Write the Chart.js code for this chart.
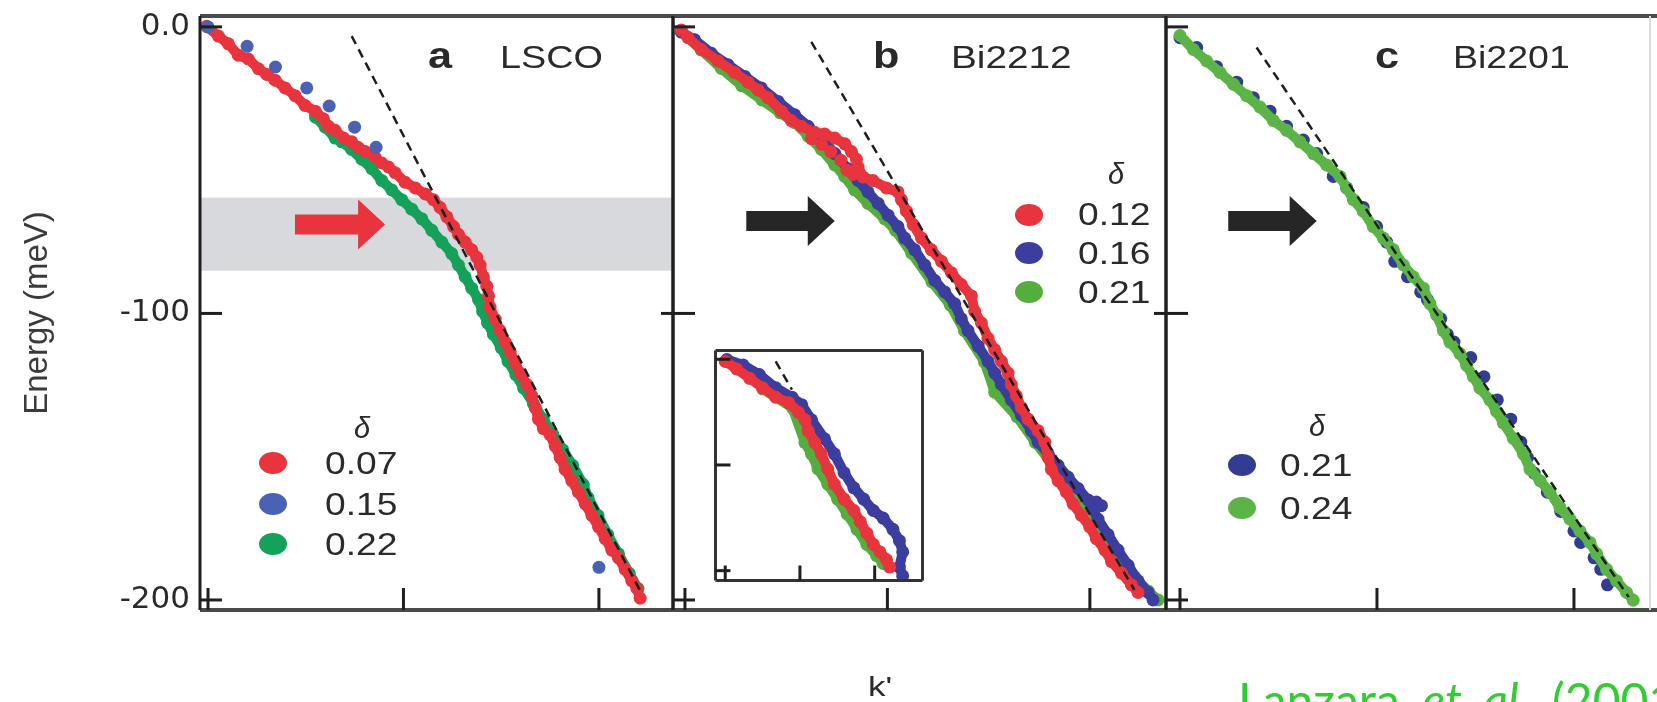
<!DOCTYPE html>
<html>
<head>
<meta charset="utf-8">
<title>Nodal dispersion kink</title>
<script src="https://cdn.jsdelivr.net/npm/chart.js@4.4.1/dist/chart.umd.min.js"></script>
<style>
html, body { margin: 0; padding: 0; background: #fff; }
#fig { position: relative; width: 1657px; height: 702px; overflow: hidden; background: #fff; }
#fig canvas { position: absolute; left: 0; top: 0; }
.t { position: absolute; font-family: "Liberation Sans", Arial, sans-serif; color: #2a2a2a; white-space: nowrap; line-height: 1; transform-origin: 0 0; }
.dot { position: absolute; width: 28px; height: 22px; border-radius: 50%; }
#cite { position: absolute; left: 1238px; top: 671px; font-family: Lato, "Open Sans", sans-serif; font-size: 48px; line-height: 1.2; color: #33cc33; white-space: nowrap; word-spacing: 10px; }
</style>
</head>
<body>
<div id="fig">
  <canvas id="panelA" width="1657" height="702"></canvas>
  <canvas id="panelB" width="1657" height="702"></canvas>
  <canvas id="panelC" width="1657" height="702"></canvas>
  <canvas id="inset" width="220" height="243" style="left:709px;top:344px"></canvas>
  <div id="labels"></div>
  <div id="cite">Lanzara <i>et al.</i> (2001)</div>
</div>
<script>
// 軸の目盛り
const kTicks = [0, 1, 2];
const eTicks = [0, -100, -200];
const eTickLabels = ['0.0', '-100', '-200'];

// a: LSCO
const lscoDoping = ['0.07', '0.15', '0.22'];
const lsco007 = [[-0.007,0.2],[0.053,-3.2],[0.104,-5.9],[0.155,-9.9],[0.206,-11.2],[0.258,-14.6],[0.30,-16.6],[0.343,-18.6],[0.394,-21.3],[0.445,-24.0],[0.496,-27.4],[0.548,-29.4],[0.59,-32.1],[0.616,-34.7],[0.65,-36.1],[0.693,-38.8],[0.735,-40.1],[0.769,-42.1],[0.804,-43.5],[0.855,-45.5],[0.889,-47.5],[0.923,-48.9],[0.957,-50.9],[1.008,-54.2],[1.06,-56.2],[1.111,-58.3],[1.153,-60.3],[1.187,-63.0],[1.222,-66.3],[1.256,-69.7],[1.281,-72.4],[1.315,-75.1],[1.349,-77.8],[1.375,-80.4],[1.392,-83.1],[1.409,-87.2],[1.426,-90.5],[1.435,-93.9],[1.443,-97.9],[1.469,-102],[1.494,-106],[1.52,-110],[1.546,-113.4],[1.571,-117.4],[1.597,-120.8],[1.631,-124.8],[1.657,-128.8],[1.674,-132.9],[1.691,-136.9],[1.716,-140.2],[1.75,-142.3],[1.776,-146.3],[1.802,-150.3],[1.827,-154.4],[1.861,-158.4],[1.895,-162.4],[1.93,-166.5],[1.964,-170.5],[1.998,-174.5],[2.032,-178.6],[2.066,-182.6],[2.10,-185.3],[2.134,-189.3],[2.168,-193.3],[2.194,-196],[2.211,-199.4]];
const lsco015 = [[0.0,0],[0.2,-6.8],[0.345,-14],[0.505,-21.3],[0.62,-27.6],[0.75,-35],[0.86,-42],[2.0,-188.6]];
const lsco022 = [[0.55,-31.5],[0.60,-35],[0.65,-38.8],[0.684,-40.1],[0.735,-42.8],[0.787,-46.2],[0.838,-49.5],[0.889,-53.6],[0.94,-56.9],[0.991,-60.3],[1.042,-63.6],[1.094,-67.0],[1.145,-71.0],[1.196,-75.1],[1.247,-79.1],[1.281,-83.1],[1.315,-87.2],[1.349,-91.2],[1.384,-95.2],[1.405,-99.3],[1.43,-103.3],[1.46,-107.3],[1.5,-112],[1.535,-116.7],[1.575,-121.4],[1.615,-126.1],[1.665,-131.5],[1.715,-136.9],[1.765,-142.3],[1.815,-147.6],[1.865,-153],[1.92,-159.7],[1.945,-164.4],[1.995,-170.5],[2.045,-177.2],[2.1,-183.9],[2.155,-190.7],[2.2,-196]];
const lscoFit = [[0.735,-3.2],[2.22,-198]];
const lscoBand = [-59.6, -85.1];
const lscoArrow = [0.445, 0.906, -69];

// b: Bi2212
const bi2212Doping = ['0.12', '0.16', '0.21'];
const bi2212_012 = [[-0.018,-1.1],[0.015,-3.8],[0.081,-7.9],[0.163,-11.9],[0.245,-15.9],[0.311,-19.3],[0.361,-22.0],[0.41,-24.7],[0.476,-29.4],[0.525,-32.7],[0.575,-34.7],[0.641,-36.8],[0.69,-37.4],[0.74,-38.8],[0.789,-40.8],[0.822,-43.5],[0.847,-46.2],[0.855,-48.9],[0.88,-52.4],[0.929,-53.6],[0.995,-56.2],[1.052,-57.6],[1.069,-60.3],[1.094,-64.3],[1.127,-69.0],[1.168,-73.7],[1.217,-77.8],[1.267,-81.8],[1.316,-85.8],[1.365,-89.9],[1.415,-93.9],[1.431,-99.3],[1.464,-103.3],[1.497,-108.7],[1.53,-112.7],[1.563,-116.7],[1.596,-120.8],[1.612,-124.8],[1.637,-128.8],[1.662,-132.9],[1.695,-136.9],[1.744,-140.9],[1.777,-144.9],[1.794,-150.3],[1.81,-154.4],[1.843,-158.4],[1.884,-162.4],[1.917,-166.5],[1.958,-170.5],[1.999,-174.5],[2.032,-178.6],[2.074,-182.6],[2.107,-186.6],[2.156,-190.6],[2.205,-194.7],[2.238,-197.4]];
const bi2212_012Blob = [[0.625,-39],[0.675,-41],[0.72,-43.5],[0.77,-46.5],[0.80,-50],[0.83,-51.5]];
const bi2212_016 = [[-0.018,-1.8],[0.048,-4.5],[0.13,-9.2],[0.212,-13.2],[0.295,-17.3],[0.377,-21.3],[0.46,-26.0],[0.542,-30.7],[0.608,-34.7],[0.674,-38.8],[0.74,-44.2],[0.805,-49.5],[0.855,-53.6],[0.904,-57.6],[0.954,-61.6],[1.003,-65.7],[1.052,-69.7],[1.085,-73.7],[1.135,-77.8],[1.184,-83.1],[1.234,-88.5],[1.283,-92.5],[1.332,-96.6],[1.365,-101.9],[1.398,-106.0],[1.448,-111.4],[1.497,-116.7],[1.53,-120.8],[1.563,-124.8],[1.612,-130.2],[1.662,-135.6],[1.711,-140.9],[1.744,-144.9],[1.794,-149.0],[1.843,-153.0],[1.892,-157.1],[1.942,-161.1],[1.991,-165.1],[2.04,-171.8],[2.09,-177.2],[2.139,-182.6],[2.189,-187.9],[2.238,-193.3],[2.288,-197.4],[2.312,-200]];
const bi2212_016Spur = [[2.032,-165.8],[2.057,-167.1]];
const bi2212_021 = [[-0.02,-1.5],[0.08,-8],[0.18,-14.5],[0.28,-20.5],[0.38,-25.5],[0.47,-30],[0.542,-33.4],[0.608,-38.1],[0.674,-42.8],[0.74,-48.2],[0.789,-52.2],[0.838,-56.9],[0.904,-61.6],[0.987,-67],[1.04,-71],[1.12,-79],[1.22,-89],[1.31,-97],[1.38,-106],[1.48,-117],[1.53,-127.5],[1.64,-136],[1.73,-145],[1.83,-154],[1.93,-162],[2.03,-173],[2.13,-183],[2.222,-192],[2.29,-197],[2.337,-200]];
const bi2212Fit = [[0.624,-5.2],[2.22,-196.5]];
const bi2212Arrow = [0.303, 0.74, -67.7];

// b 挿入図
const insetRed = [[0.0,-2],[0.152,-9.1],[0.327,-18.0],[0.501,-27.0],[0.675,-35.9],[0.85,-41.2],[0.98,-50.2],[1.067,-57.3],[1.111,-68.0],[1.198,-78.8],[1.285,-89.5],[1.372,-103.8],[1.46,-118.1],[1.59,-132.3],[1.721,-143.1],[1.808,-153.8],[1.895,-164.5],[1.982,-175.2],[2.07,-182.3],[2.157,-189.5],[2.2,-196.6]];
const insetBlue = [[0.022,-0.2],[0.24,-5.5],[0.457,-14.5],[0.675,-27.0],[0.893,-35.9],[1.024,-43.0],[1.154,-57.3],[1.329,-75.2],[1.46,-89.5],[1.59,-107.3],[1.721,-121.6],[1.852,-132.3],[1.982,-143.1],[2.113,-150.2],[2.244,-160.9],[2.331,-171.6],[2.375,-182.3],[2.331,-196.6],[2.375,-205]];
const insetGreen = [[0.5,-28],[0.9,-46],[1.067,-78.8],[1.154,-89.5],[1.242,-103.8],[1.372,-118.1],[1.503,-132.3],[1.634,-146.6],[1.764,-160.9],[1.895,-175.2],[2.026,-185.9],[2.113,-193.1]];
const insetFit = [[0.675,-2],[0.893,-28.8]];

// c: Bi2201
const bi2201Doping = ['0.21', '0.24'];
const bi2201_021 = [[0.0,-3.8],[0.085,-7.2],[0.186,-13.9],[0.288,-19.3],[0.372,-24.7],[0.457,-29.4],[0.541,-34.7],[0.626,-39.5],[0.694,-44.2],[0.778,-52.2],[0.846,-56.2],[0.93,-63.0],[0.998,-69.7],[1.049,-75.1],[1.09,-81.8],[1.155,-87.2],[1.222,-92.5],[1.256,-95.2],[1.324,-101.9],[1.357,-107.3],[1.391,-110.0],[1.476,-115.4],[1.543,-122.1],[1.611,-130.2],[1.679,-136.9],[1.73,-144.9],[1.764,-150.3],[1.798,-155.7],[1.865,-162.4],[1.933,-169.1],[2.0,-175.9],[2.034,-179.9],[2.102,-185.3],[2.136,-189.3],[2.17,-194.7]];
const bi2201_024 = [[0.0,-3],[0.068,-7.9],[0.135,-11.9],[0.203,-15.9],[0.271,-20.0],[0.338,-24.0],[0.406,-28.0],[0.474,-32.7],[0.541,-36.1],[0.609,-40.1],[0.677,-44.2],[0.744,-48.2],[0.812,-52.2],[0.846,-56.2],[0.88,-60.3],[0.93,-64.3],[0.981,-69.7],[1.032,-73.7],[1.083,-77.8],[1.134,-83.1],[1.184,-87.2],[1.235,-91.2],[1.269,-96.6],[1.303,-100.6],[1.337,-106.0],[1.37,-110.0],[1.421,-114.0],[1.455,-118.1],[1.489,-122.1],[1.523,-126.1],[1.573,-130.2],[1.607,-134.2],[1.641,-138.2],[1.692,-143.6],[1.743,-149.0],[1.777,-154.4],[1.828,-158.4],[1.878,-162.4],[1.929,-167.8],[1.98,-171.8],[2.03,-175.9],[2.081,-179.9],[2.115,-183.9],[2.166,-189.3],[2.216,-193.3],[2.267,-197.4],[2.301,-200.1]];
const bi2201Fit = [[0.389,-7.2],[2.278,-199]];
const bi2201Arrow = [0.245, 0.694, -67.7];

// 色
const RED = '#e8343c';
const colorsA = [RED, '#4a62b4', '#14a15a'];
const colorsB = [RED, '#3b3d9f', '#55ad3e'];
const colorsC = ['#323c92', '#5cb447'];

// 枠・目盛り・帯・矢印（スケール経由で描画）
const panelDecor = {
    id: 'panelDecor',
    beforeDraw(chart, args, o) {
        if (!o.whiteBg) return;
        const a = chart.chartArea, ctx = chart.ctx;
        ctx.save();
        ctx.fillStyle = '#fff';
        ctx.fillRect(a.left, a.top, a.right - a.left, a.bottom - a.top);
        ctx.restore();
    },
    beforeDatasetsDraw(chart, args, o) {
        if (!o.band) return;
        const {ctx, chartArea: a, scales: {y}} = chart;
        const y0 = y.getPixelForValue(o.band[0]), y1 = y.getPixelForValue(o.band[1]);
        ctx.save();
        ctx.fillStyle = o.bandColor;
        ctx.fillRect(a.left, y0, a.right - a.left, y1 - y0);
        ctx.restore();
    },
    afterDatasetsDraw(chart, args, o) {
        if (!o.arrow) return;
        const {ctx, scales: {x, y}} = chart;
        const xs = x.getPixelForValue(o.arrow[0]);
        const xt = x.getPixelForValue(o.arrow[1]);
        const yc = y.getPixelForValue(o.arrow[2]);
        const hl = o.arrowHead, sw = o.arrowShaft, hw = o.arrowWing;
        ctx.save();
        ctx.fillStyle = o.arrowColor;
        ctx.beginPath();
        ctx.moveTo(xs, yc - sw);
        ctx.lineTo(xt - hl, yc - sw);
        ctx.lineTo(xt - hl, yc - hw);
        ctx.lineTo(xt, yc);
        ctx.lineTo(xt - hl, yc + hw);
        ctx.lineTo(xt - hl, yc + sw);
        ctx.lineTo(xs, yc + sw);
        ctx.closePath();
        ctx.fill();
        ctx.restore();
    },
    afterDraw(chart, args, o) {
        const {ctx, chartArea: a, scales: {x, y}} = chart;
        const line = (x0, y0, x1, y1) => { ctx.beginPath(); ctx.moveTo(x0, y0); ctx.lineTo(x1, y1); ctx.stroke(); };
        const right = o.extendRight ? chart.width : a.right;
        ctx.save();
        ctx.strokeStyle = o.hColor; ctx.lineWidth = o.hWidth;
        line(a.left, a.top, right, a.top);
        line(a.left, a.bottom, right, a.bottom);
        ctx.strokeStyle = o.vColor; ctx.lineWidth = o.vWidth;
        line(a.left, a.top, a.left, a.bottom);
        ctx.strokeStyle = o.rColor || o.vColor; ctx.lineWidth = o.rWidth || o.vWidth;
        line(a.right, a.top, a.right, a.bottom);
        ctx.strokeStyle = o.tickColor; ctx.lineWidth = o.tickWidth;
        (o.kTicks || []).forEach(v => { const px = x.getPixelForValue(v); line(px, a.bottom, px, a.bottom - o.tickLen); });
        (o.eTicks || []).forEach(v => { const py = y.getPixelForValue(v); line(a.left, py, a.left + o.tickLen, py); });
        (o.rTicks || []).forEach(v => { const py = y.getPixelForValue(v); line(a.right, py, a.right - o.rTickLen, py); });
        ctx.restore();
    }
};

const frameStyle = {
    hColor: '#4a4a4a', hWidth: 4, vColor: '#1f1f1f', vWidth: 3,
    tickColor: '#1f1f1f', tickWidth: 3, tickLen: 22, rTickLen: 12,
    arrowShaft: 10, arrowWing: 25, arrowHead: 27,
    kTicks: kTicks, eTicks: eTicks
};

function dotSet(points, color, order, withLine, radius) {
    return {
        data: points.map(([x, y]) => ({ x, y })),
        backgroundColor: color,
        borderColor: color,
        borderWidth: withLine ? 10 : 0,
        showLine: !!withLine,
        tension: 0,
        pointRadius: radius || 6.5,
        pointBorderWidth: 0,
        order: order
    };
}

function fitSet(points, order) {
    return {
        data: points.map(([x, y]) => ({ x, y })),
        showLine: true,
        borderColor: '#1e1e1e',
        borderWidth: 2.5,
        borderDash: [9, 6],
        pointRadius: 0,
        order: order
    };
}

function buildPanel(canvasId, datasets, o) {
    const showE = !!o.showEnergyAxis;
    return new Chart(document.getElementById(canvasId), {
        type: 'scatter',
        data: { datasets },
        options: {
            responsive: false,
            animation: false,
            events: [],
            layout: { padding: o.padding },
            scales: {
                x: { type: 'linear', min: o.kRange[0], max: o.kRange[1], display: false },
                y: {
                    type: 'linear',
                    min: o.eRange[0], max: o.eRange[1],
                    display: showE,
                    grid: { display: false, drawTicks: false },
                    border: { display: false },
                    afterBuildTicks: s => { s.ticks = eTicks.map(v => ({ value: v })); },
                    afterFit: s => { s.width = o.axisWidth || 0; s.paddingTop = 0; s.paddingBottom = 0; },
                    ticks: {
                        autoSkip: false,
                        padding: 10,
                        color: '#2a2a2a',
                        font: { family: '"DejaVu Sans", sans-serif', size: 31 },
                        callback: v => eTickLabels[eTicks.indexOf(v)]
                    },
                    title: {
                        display: showE,
                        text: 'Energy (meV)',
                        color: '#3a3a3a',
                        font: { family: '"Liberation Sans", Arial, sans-serif', size: 33 },
                        padding: { top: 18, bottom: 0 }
                    }
                }
            },
            plugins: {
                legend: { display: false },
                tooltip: { enabled: false },
                panelDecor: Object.assign({}, frameStyle, o.decor)
            }
        },
        plugins: [panelDecor]
    });
}

const E_RANGE = [-203.5, 3.8];

buildPanel('panelA', [
    fitSet(lscoFit, 0),
    dotSet(lsco015, colorsA[1], 1, false),
    dotSet(lsco007, colorsA[0], 2, true),
    dotSet(lsco022, colorsA[2], 3, true)
], {
    showEnergyAxis: true, axisWidth: 200,
    padding: { left: 0, top: 16, right: 984, bottom: 92 },
    kRange: [-0.041, 2.379], eRange: E_RANGE,
    decor: { band: lscoBand, bandColor: '#d8d9dc', arrow: lscoArrow, arrowColor: '#e8343c', rTicks: [-100] }
});

buildPanel('panelB', [
    fitSet(bi2212Fit, 0),
    dotSet(bi2212_012, colorsB[0], 1, true),
    dotSet(bi2212_012Blob, colorsB[0], 2, false),
    dotSet(bi2212_016, colorsB[1], 3, true),
    dotSet(bi2212_016Spur, colorsB[1], 4, false),
    dotSet(bi2212_021, colorsB[2], 5, true)
], {
    padding: { left: 673, top: 16, right: 491, bottom: 92 },
    kRange: [-0.059, 2.376], eRange: E_RANGE,
    decor: { arrow: bi2212Arrow, arrowColor: '#262626', rTicks: [-100] }
});

buildPanel('panelC', [
    fitSet(bi2201Fit, 0),
    dotSet(bi2201_024, colorsC[1], 1, true),
    dotSet(bi2201_021, colorsC[0], 2, false)
], {
    padding: { left: 1166, top: 16, right: 7, bottom: 92 },
    kRange: [-0.071, 2.386], eRange: E_RANGE,
    decor: { arrow: bi2201Arrow, arrowColor: '#262626', extendRight: true, rColor: '#dcdcdc', rWidth: 2 }
});

buildPanel('inset', [
    fitSet(insetFit, 0),
    dotSet(insetRed, colorsB[0], 1, true, 6.5),
    dotSet(insetBlue, colorsB[1], 2, true, 6.5),
    dotSet(insetGreen, colorsB[2], 3, true, 6.5)
], {
    padding: { left: 4, top: 4, right: 4, bottom: 4 },
    kRange: [-0.13, 2.64], eRange: [-209.3, 8.3],
    decor: { whiteBg: true, hColor: '#333', hWidth: 3, vColor: '#333', vWidth: 3, tickLen: 15 }
});

// パネル名・凡例（HTMLテキスト）
const labelsEl = document.getElementById('labels');
function addText(text, left, top, size, opt) {
    opt = opt || {};
    const el = document.createElement('div');
    el.className = 't';
    el.textContent = text;
    el.style.left = left + 'px';
    el.style.top = top + 'px';
    el.style.fontSize = size + 'px';
    if (opt.bold) el.style.fontWeight = 'bold';
    if (opt.italic) el.style.fontStyle = 'italic';
    el.style.transform = 'scaleX(' + (opt.sx || 1) + ')';
    labelsEl.appendChild(el);
}
function addDot(cx, cy, color) {
    const el = document.createElement('div');
    el.className = 'dot';
    el.style.left = (cx - 14) + 'px';
    el.style.top = (cy - 11) + 'px';
    el.style.background = color;
    labelsEl.appendChild(el);
}

addText('a', 428, 37.5, 36, { bold: true, sx: 1.2 });
addText('LSCO', 500, 41.8, 31, { sx: 1.22 });
addText('b', 873, 37.5, 36, { bold: true, sx: 1.2 });
addText('Bi2212', 951, 41.8, 31, { sx: 1.25 });
addText('c', 1375, 37.5, 36, { bold: true, sx: 1.2 });
addText('Bi2201', 1453, 41.8, 31, { sx: 1.21 });
addText('k\'', 868, 673, 28, { sx: 1.25 });

const legends = [
    { delta: [354, 414], dotX: 273, textX: 325, rows: [463, 504, 544], labels: lscoDoping, colors: colorsA },
    { delta: [1108, 160], dotX: 1029, textX: 1078, rows: [214.5, 253, 292], labels: bi2212Doping, colors: colorsB },
    { delta: [1309, 412], dotX: 1242, textX: 1280, rows: [465, 508], labels: bi2201Doping, colors: colorsC }
];
legends.forEach(lg => {
    addText('δ', lg.delta[0], lg.delta[1], 29, { italic: true });
    lg.rows.forEach((cy, i) => {
        addDot(lg.dotX, cy, lg.colors[i]);
        addText(lg.labels[i], lg.textX, cy - 15.5, 31, { sx: 1.2 });
    });
});
</script>
</body>
</html>
